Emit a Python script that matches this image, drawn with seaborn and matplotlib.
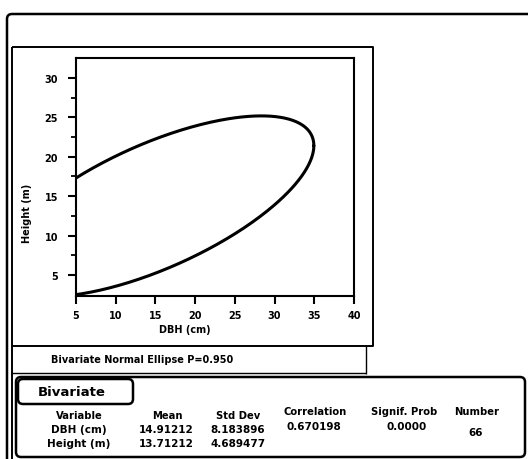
import numpy as np
import pandas as pd
import matplotlib
matplotlib.use("Agg")
import matplotlib.pyplot as plt
import seaborn as sns
from matplotlib.patches import FancyBboxPatch

variables = ["DBH (cm)", "Height (m)"]
means = [14.91212, 13.71212]
std_devs = [8.183896, 4.689477]
correlation = 0.670198
signif_prob = 0.0000
number = 66
ellipse_p = 0.950
x_ticks = [5, 10, 15, 20, 25, 30, 35, 40]
y_ticks = [5, 10, 15, 20, 25, 30]
y_minor_ticks = [7.5, 12.5, 17.5, 22.5, 27.5]

# ---- bivariate normal ellipse from the tabulated statistics ----
c = np.sqrt(-2.0 * np.log(1.0 - ellipse_p))
t = np.linspace(0, 2 * np.pi, 400)
z1 = c * np.cos(t)
z2 = c * np.sin(t)
ell = pd.DataFrame({
    "DBH": means[0] + std_devs[0] * z1,
    "Height": means[1] + std_devs[1] * (correlation * z1 + np.sqrt(1 - correlation ** 2) * z2),
})

sns.set_style("ticks")
plt.rcParams["font.family"] = ["DejaVu Sans"]
plt.rcParams["font.weight"] = "bold"
plt.rcParams["text.color"] = "black"
plt.rcParams["axes.labelcolor"] = "black"
plt.rcParams["xtick.color"] = "black"
plt.rcParams["ytick.color"] = "black"

W, H = 528, 460
fig = plt.figure(figsize=(W / 100, H / 100), dpi=100)
fig.patch.set_facecolor("white")

# overlay in pixel coordinates for the report frames
bg = fig.add_axes([0, 0, 1, 1])
bg.set_xlim(0, W)
bg.set_ylim(H, 0)
bg.axis("off")


def rbox(x0, y0, x1, y1, r, lw):
    bg.add_patch(FancyBboxPatch((x0, y0), x1 - x0, y1 - y0,
                                boxstyle=f"round,pad=0,rounding_size={r}",
                                fill=False, lw=lw, ec="black"))


def line(xs, ys, lw=1.4):
    bg.plot(xs, ys, color="black", lw=lw, solid_capstyle="butt")


# outer report box (open to the right / bottom)
rbox(7, 15, 560, 500, 5, 1.8)
# plot frame
line([12, 373, 373, 12, 12], [48, 48, 347, 347, 48], 1.4)
line([12, 12], [347, 460], 1.4)
# footer cell
line([366, 366], [347, 375], 1.0)
line([12, 366], [374, 374], 1.0)
# Bivariate box
rbox(16, 378, 525, 458, 5, 1.8)
rbox(18, 380, 133, 405, 5, 1.8)

# ---- main axes ----
ax = fig.add_axes([76 / W, 1 - 297 / H, 278 / W, 238 / H])
ax.set_facecolor("white")
sns.lineplot(data=ell, x="DBH", y="Height", sort=False, estimator=None,
             color="black", lw=2.2, ax=ax)
ax.set_xlim(5, 40)
ax.set_ylim(2.33, 32.54)
ax.set_xticks(x_ticks)
ax.set_yticks(y_ticks)
ax.set_yticks(y_minor_ticks, minor=True)
ax.set_xticklabels([str(v) for v in x_ticks])
ax.set_yticklabels([str(v) for v in y_ticks])
for s in ax.spines.values():
    s.set_visible(True)
    s.set_linewidth(1.5)
    s.set_color("black")
ax.tick_params(axis="both", which="major", direction="out", length=6,
               width=1.5, labelsize=7, colors="black")
ax.tick_params(axis="y", which="major", pad=7)
ax.tick_params(axis="x", which="major", pad=4)
ax.tick_params(axis="y", which="minor", direction="out", length=3.5, width=1.3,
               colors="black")
ax.set_xlabel("DBH (cm)", fontsize=7, fontweight="bold", color="black")
ax.set_ylabel("Height (m)", fontsize=7, fontweight="bold", color="black")
ax.xaxis.set_label_coords((185 - 76) / 278, (297 - 330) / 238)
ax.yaxis.set_label_coords((27 - 76) / 278, (297 - 213) / 238)
ax.xaxis.label.set_va("center")
ax.yaxis.label.set_va("center")

# ---- report texts ----
bg.text(51, 360, f"Bivariate Normal Ellipse P={ellipse_p:.3f}", fontsize=7,
        fontweight="bold", ha="left", va="center", color="black")
bg.text(38, 393, "Bivariate", fontsize=9.5, fontweight="bold", ha="left",
        va="center", color="black")

hdr = dict(fontsize=7.2, fontweight="bold", ha="center", va="center", color="black")
val = dict(fontsize=7.5, fontweight="bold", ha="center", va="center", color="black")
bg.text(79, 416, "Variable", **hdr)
bg.text(167, 416, "Mean", **hdr)
bg.text(238, 416, "Std Dev", **hdr)
bg.text(315, 412, "Correlation", **hdr)
bg.text(404, 412, "Signif. Prob", **hdr)
bg.text(477, 412, "Number", **hdr)

row_y = [430, 444]
for i, v in enumerate(variables):
    bg.text(79, row_y[i], v, **val)
    bg.text(166, row_y[i], f"{means[i]:.5f}", **val)
    bg.text(238, row_y[i], f"{std_devs[i]:.6f}", **val)
bg.text(314, 427, f"{correlation:.6f}", **val)
bg.text(407, 427, f"{signif_prob:.4f}", **val)
bg.text(476, 433, f"{number}", **val)

fig.savefig("out.png", dpi=100, facecolor="white")
